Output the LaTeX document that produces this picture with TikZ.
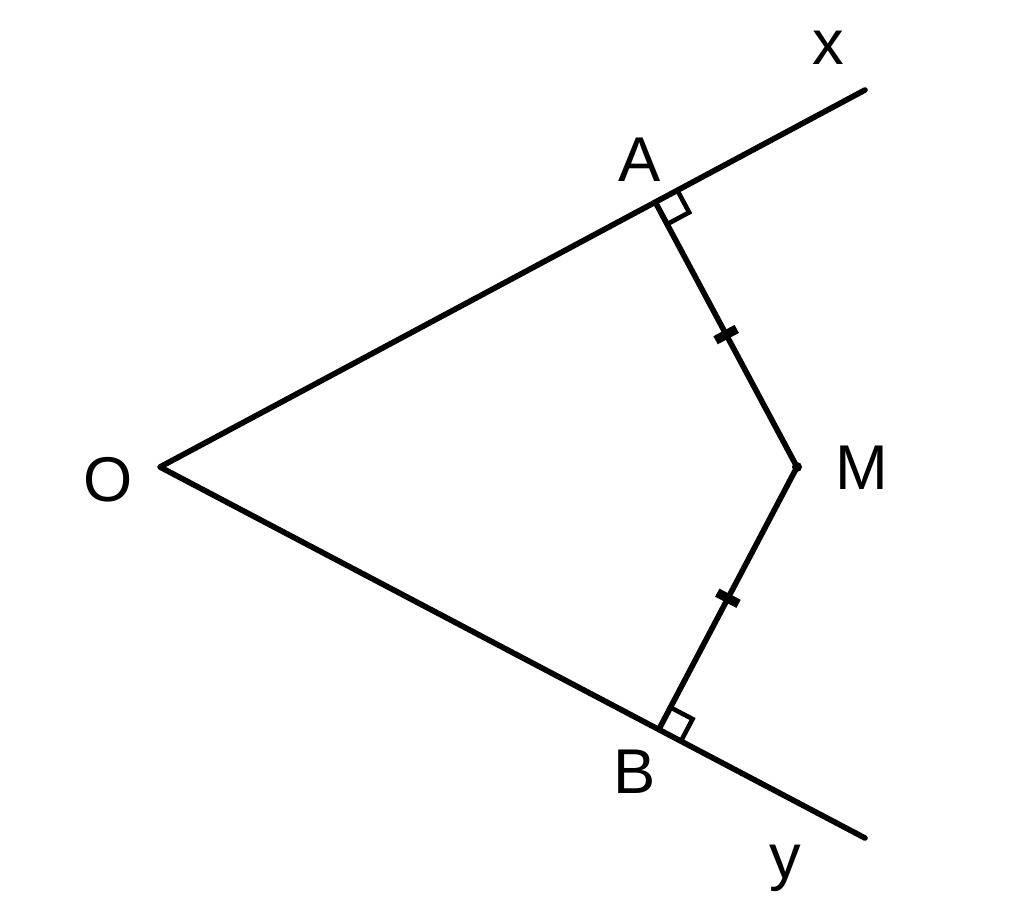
\documentclass[tikz,border=0pt]{standalone}
\usepackage{fontspec}
\setmainfont{Liberation Sans}
\usetikzlibrary{calc}
\begin{document}
\begin{tikzpicture}[
  seg/.style={line width=1.6pt, line cap=round, line join=round},
  lbl/.style={font=\fontsize{18}{20}\selectfont, inner sep=0pt},
  tick/.style={line width=2.6pt}
]
\useasboundingbox (0,0) rectangle (10.24,9.02);
\coordinate (O) at (1.60,4.35);
\coordinate (X) at (8.65,8.12);
\coordinate (Y) at (8.65,0.64);
\coordinate (M) at (7.97,4.35);
\coordinate (A) at ($(O)!(M)!(X)$);
\coordinate (B) at ($(O)!(M)!(Y)$);
% rays
\draw[seg] (X) -- (O) -- (Y);
% perpendiculars
\draw[seg] (A) -- (M) -- (B);
\fill (M) circle (0.05);
% right angle marks
\coordinate (A1) at ($(A)!0.25cm!(X)$);
\coordinate (A2) at ($(A)!0.25cm!(M)$);
\coordinate (B1) at ($(B)!0.25cm!(Y)$);
\coordinate (B2) at ($(B)!0.25cm!(M)$);
\draw[line width=1.3pt] (A1) -- ($(A1)+(A2)-(A)$) -- (A2);
\draw[line width=1.3pt] (B1) -- ($(B1)+(B2)-(B)$) -- (B2);
% equal ticks
\coordinate (P) at ($(A)!0.5!(M)$);
\coordinate (Q) at ($(M)!0.5!(B)$);
\draw[tick] ($(P)!0.12cm!90:(M)$) -- ($(P)!0.12cm!-90:(M)$);
\draw[tick] ($(Q)!0.12cm!90:(M)$) -- ($(Q)!0.12cm!-90:(M)$);
% labels
\node[lbl] (lx) at (8.28,8.54) {x};
\node[lbl] (lA) at (6.40,7.42) {A};
\node[lbl] (lO) at (1.08,4.22) {O};
\node[lbl] (lM) at (8.62,4.34) {M};
\node[lbl] (lB) at (6.35,1.30) {B};
\node[lbl] (ly) at (7.85,0.34) {y};
\end{tikzpicture}
\end{document}
